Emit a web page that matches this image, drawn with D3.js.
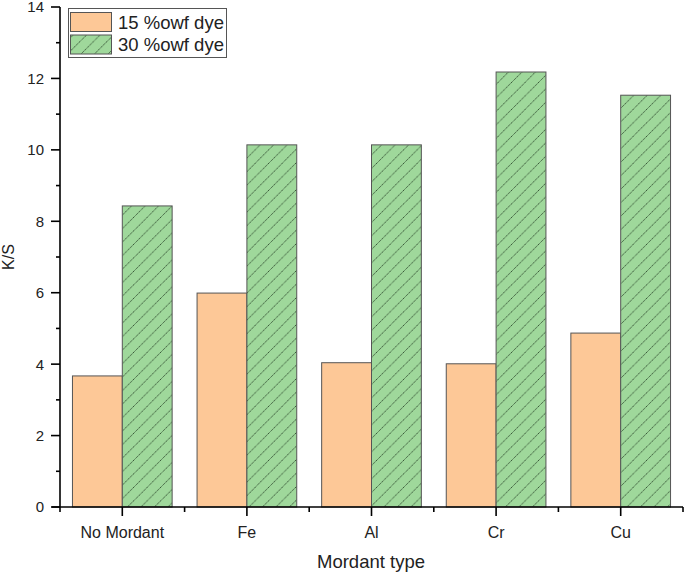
<!DOCTYPE html>
<html><head><meta charset="utf-8">
<script src="https://cdn.jsdelivr.net/npm/d3@7"></script>
<style>body{margin:0;background:#fff}svg{display:block}text{font-family:"Liberation Sans",Arial,sans-serif}</style>
</head><body>
<svg id="c" width="685" height="573"></svg>
<script>
const categories = ["No Mordant","Fe","Al","Cr","Cu"];
const series15 = [3.67, 5.99, 4.04, 4.01, 4.87];
const series30 = [8.43, 10.14, 10.14, 12.18, 11.53];
const seriesNames = ["15 %owf dye","30 %owf dye"];
const yTicks = [0,2,4,6,8,10,12,14];

const svg = d3.select("#c");
const m = {l:60, r:2, t:7, b:66};
const W = 685, H = 573;
const x = d3.scaleBand().domain(categories).range([m.l, W - m.r]).paddingInner(0.2).paddingOuter(0.1);
const xs = d3.scaleBand().domain([0,1]).range([0, x.bandwidth()]);
const y = d3.scaleLinear().domain([0,14]).range([H - m.b, m.t]);

const defs = svg.append("defs");
const P = 13.5;
const pat = defs.append("pattern").attr("id","hatch").attr("patternUnits","userSpaceOnUse")
  .attr("width",P).attr("height",P);
pat.append("rect").attr("width",P).attr("height",P).attr("fill","#9fd89b");
pat.append("path").attr("d",`M-1,${P+1} L${P+1},-1 M-3,3 L3,-3 M${P-3},${P+3} L${P+3},${P-3}`)
  .attr("stroke","#263f26").attr("stroke-width",0.9).attr("stroke-dasharray","1.6,0.6");

const colors = ["#fdc897","url(#hatch)"];
const data = [series15, series30];

const g = svg.append("g");
data.forEach((vals, si) => {
  g.selectAll(null).data(vals).enter().append("rect")
    .attr("x", (d,i) => x(categories[i]) + xs(si))
    .attr("y", d => y(d))
    .attr("width", xs.bandwidth())
    .attr("height", d => y(0) - y(d))
    .attr("fill", colors[si])
    .attr("stroke", "#555")
    .attr("stroke-width", 1);
});

// Y axis
const yAx = svg.append("g").attr("transform", `translate(${m.l},0)`);
yAx.append("line").attr("x1",0).attr("x2",0).attr("y1",y(14)).attr("y2",y(0)).attr("stroke","#000").attr("stroke-width",1.6);
yTicks.forEach(t => {
  yAx.append("line").attr("x1",-9).attr("x2",0).attr("y1",y(t)).attr("y2",y(t)).attr("stroke","#000").attr("stroke-width",1.6);
  yAx.append("text").attr("x",-16).attr("y",y(t)).attr("dy","0.36em").attr("text-anchor","end")
    .attr("font-size",15).attr("fill","#222").text(t);
});
d3.range(1,14,2).forEach(t => {
  yAx.append("line").attr("x1",-4).attr("x2",0).attr("y1",y(t)).attr("y2",y(t)).attr("stroke","#000").attr("stroke-width",1.6);
});

// X axis
const xAx = svg.append("g").attr("transform", `translate(0,${y(0)})`);
xAx.append("line").attr("x1",m.l-8).attr("x2",W-m.r).attr("y1",0).attr("y2",0).attr("stroke","#000").attr("stroke-width",1.6);
const step = x.step();
categories.forEach((c,i) => {
  const cx = x(c) + x.bandwidth()/2;
  xAx.append("line").attr("x1",cx).attr("x2",cx).attr("y1",0).attr("y2",9).attr("stroke","#000").attr("stroke-width",1.6);
  xAx.append("text").attr("x",cx).attr("y",31).attr("text-anchor","middle").attr("font-size",16).attr("fill","#222").text(c);
});
d3.range(0,6).forEach(i => {
  const bx = m.l + i*step;
  xAx.append("line").attr("x1",bx).attr("x2",bx).attr("y1",0).attr("y2",5).attr("stroke","#000").attr("stroke-width",1.6);
});

// axis titles
svg.append("text").attr("x", 371).attr("y", 568).attr("text-anchor","middle")
  .attr("font-size",18.5).attr("fill","#222").text("Mordant type");
svg.append("text").attr("transform", `translate(14,${(y(0)+y(14))/2}) rotate(-90)`).attr("text-anchor","middle")
  .attr("font-size",16).attr("fill","#222").text("K/S");

// legend
const lg = svg.append("g");
lg.append("rect").attr("x",68.5).attr("y",8.5).attr("width",158).attr("height",49).attr("fill","#fff").attr("stroke","#555").attr("stroke-width",1);
seriesNames.forEach((n,i) => {
  lg.append("rect").attr("x",70.5).attr("y",12.5 + i*22.5).attr("width",41).attr("height",19)
    .attr("fill",colors[i]).attr("stroke","#555").attr("stroke-width",1);
  lg.append("text").attr("x",118).attr("y",22 + i*22.5).attr("dy","0.36em").attr("font-size",18.5).attr("fill","#222").text(n);
});
</script>
</body></html>
